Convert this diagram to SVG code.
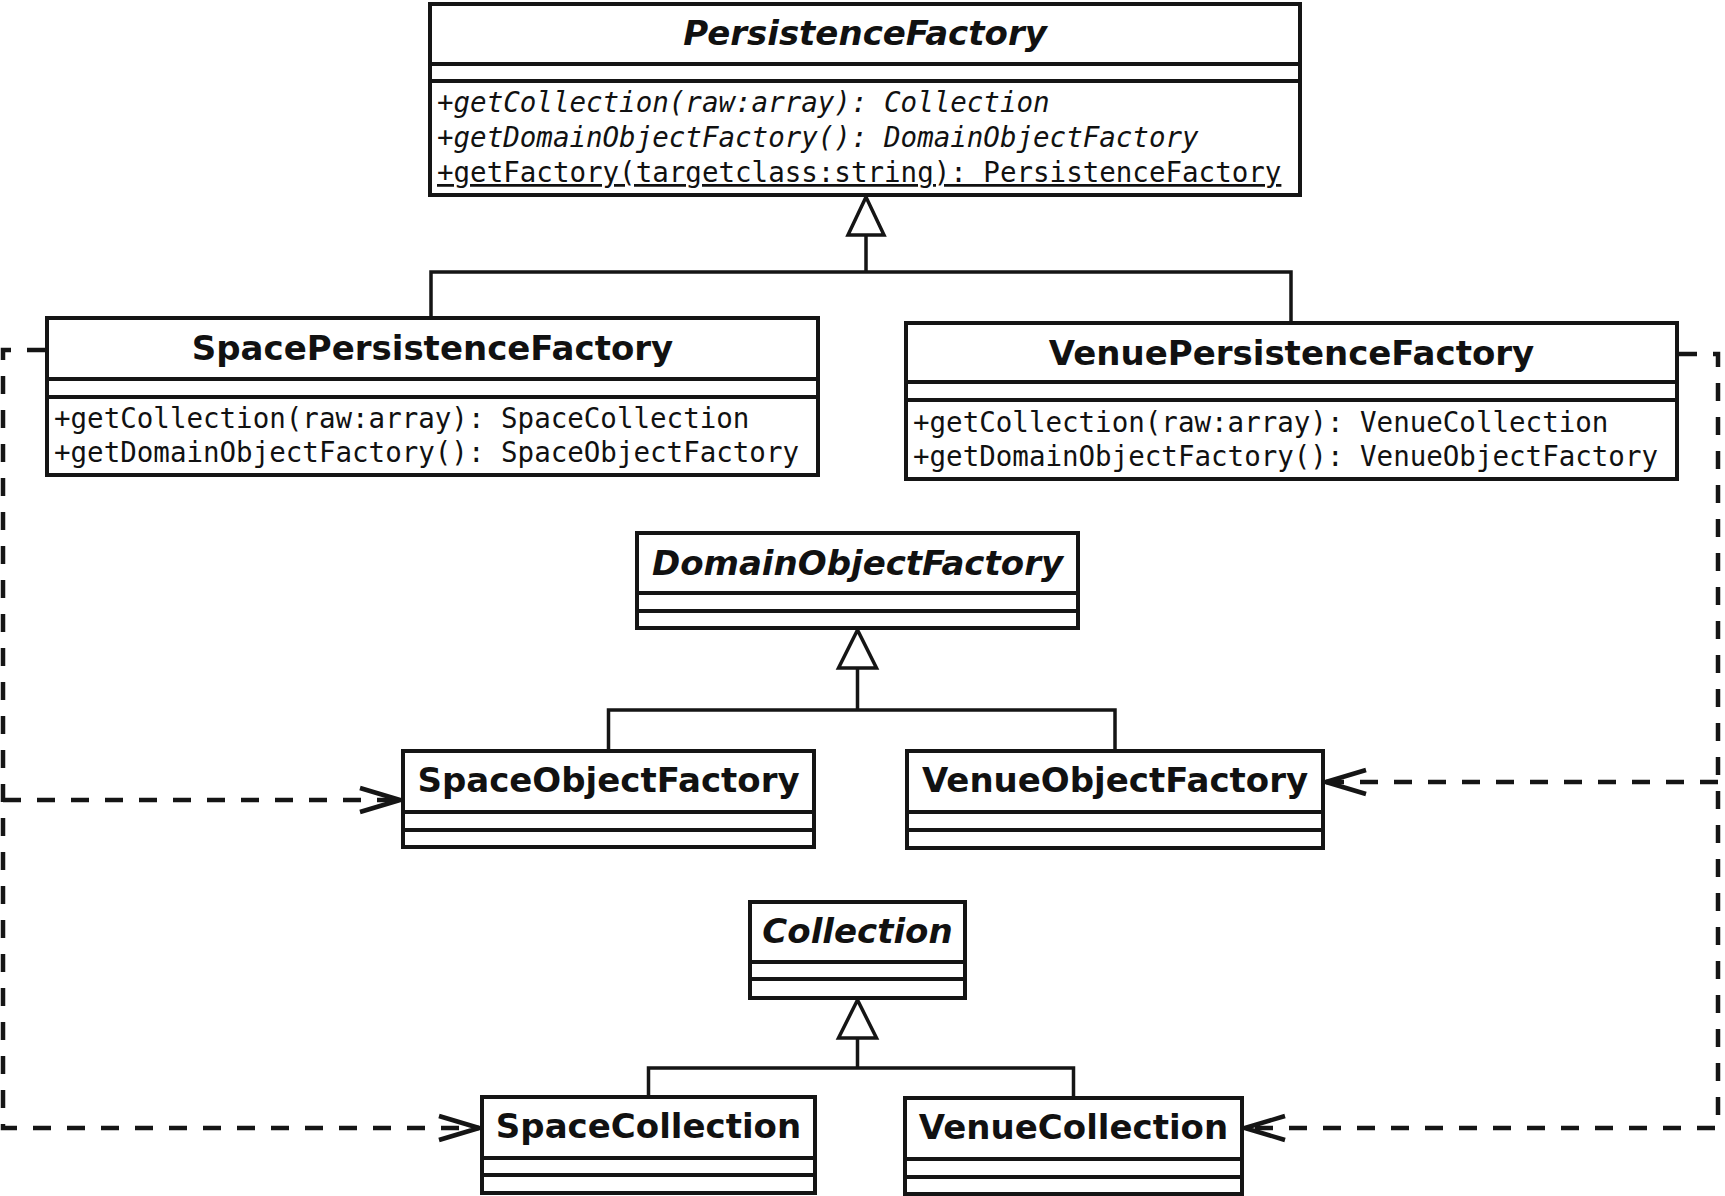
<svg xmlns="http://www.w3.org/2000/svg" width="1725" height="1196" viewBox="0 0 1725 1196">
<style>
.box{fill:#fff;stroke:#151515;stroke-width:4}
.dv{stroke:#151515;stroke-width:4}
.title{font-family:"DejaVu Sans","Liberation Sans",sans-serif;font-weight:bold;font-size:34px;text-anchor:middle;fill:#111}
.abs{font-style:italic}
.op{font-family:"DejaVu Sans Mono","Liberation Mono",monospace;font-size:27.5px;fill:#111}
.gen{fill:none;stroke:#151515;stroke-width:3.5}
.tri{fill:#fff;stroke:#151515;stroke-width:3.5;stroke-linejoin:miter}
.dep{fill:none;stroke:#151515;stroke-width:4.5;stroke-dasharray:18 16}
</style>
<defs>
<marker id="open" markerUnits="userSpaceOnUse" viewBox="-44 -16 48 32" refX="0" refY="0" markerWidth="48" markerHeight="32" orient="auto" overflow="visible">
<path d="M -40 -12 L 0 0 L -40 12" fill="none" stroke="#151515" stroke-width="4.5" stroke-linejoin="round" stroke-dasharray="none"/>
</marker>
</defs>
<rect width="1725" height="1196" fill="#fff"/>

<g id="connectors">
<polygon class="tri" points="866,197 848,235 884,235"/>
<path class="gen" d="M866 235 V272 M431 318 V272 H1291 V323"/>
<polygon class="tri" points="857.5,630 838.5,668 876.5,668"/>
<path class="gen" d="M857.5 668 V710 M608.5 751 V710 H1115 V751"/>
<polygon class="tri" points="857.5,1000 838.5,1038 876.5,1038"/>
<path class="gen" d="M857.5 1038 V1068 M648.5 1097 V1068 H1073.5 V1098"/>
<path class="dep" d="M45 350 H3 V1128 H479" marker-end="url(#open)"/>
<path class="dep" d="M3 800 H400" marker-end="url(#open)"/>
<path class="dep" d="M1679 354 H1718 V1128 H1245" marker-end="url(#open)"/>
<path class="dep" d="M1718 782 H1326" marker-end="url(#open)"/>
</g>

<g id="PersistenceFactory">
<rect class="box" x="430" y="4" width="870" height="191"/>
<line class="dv" x1="430" y1="64" x2="1300" y2="64"/>
<line class="dv" x1="430" y1="81" x2="1300" y2="81"/>
<text class="title abs" x="865" y="45">PersistenceFactory</text>
<text class="op abs" x="437" y="112">+getCollection(raw:array): Collection</text>
<text class="op abs" x="437" y="147">+getDomainObjectFactory(): DomainObjectFactory</text>
<text class="op" x="437" y="182" text-decoration="underline">+getFactory(targetclass:string): PersistenceFactory</text>
</g>

<g id="SpacePersistenceFactory">
<rect class="box" x="47" y="318" width="771" height="157"/>
<line class="dv" x1="47" y1="379" x2="818" y2="379"/>
<line class="dv" x1="47" y1="397" x2="818" y2="397"/>
<text class="title" x="432.5" y="360">SpacePersistenceFactory</text>
<text class="op" x="54" y="428">+getCollection(raw:array): SpaceCollection</text>
<text class="op" x="54" y="462">+getDomainObjectFactory(): SpaceObjectFactory</text>
</g>

<g id="VenuePersistenceFactory">
<rect class="box" x="906" y="323" width="771" height="156"/>
<line class="dv" x1="906" y1="382" x2="1677" y2="382"/>
<line class="dv" x1="906" y1="400" x2="1677" y2="400"/>
<text class="title" x="1291.5" y="365">VenuePersistenceFactory</text>
<text class="op" x="913" y="432">+getCollection(raw:array): VenueCollection</text>
<text class="op" x="913" y="466">+getDomainObjectFactory(): VenueObjectFactory</text>
</g>

<g id="DomainObjectFactory">
<rect class="box" x="637" y="533" width="441" height="95"/>
<line class="dv" x1="637" y1="593" x2="1078" y2="593"/>
<line class="dv" x1="637" y1="611" x2="1078" y2="611"/>
<text class="title abs" x="857.5" y="575">DomainObjectFactory</text>
</g>

<g id="SpaceObjectFactory">
<rect class="box" x="403" y="751" width="411" height="96"/>
<line class="dv" x1="403" y1="812" x2="814" y2="812"/>
<line class="dv" x1="403" y1="830" x2="814" y2="830"/>
<text class="title" x="608.5" y="792">SpaceObjectFactory</text>
</g>

<g id="VenueObjectFactory">
<rect class="box" x="907" y="751" width="416" height="97"/>
<line class="dv" x1="907" y1="812" x2="1323" y2="812"/>
<line class="dv" x1="907" y1="830" x2="1323" y2="830"/>
<text class="title" x="1115" y="792">VenueObjectFactory</text>
</g>

<g id="Collection">
<rect class="box" x="750" y="902" width="215" height="96"/>
<line class="dv" x1="750" y1="962" x2="965" y2="962"/>
<line class="dv" x1="750" y1="979" x2="965" y2="979"/>
<text class="title abs" x="857.5" y="943">Collection</text>
</g>

<g id="SpaceCollection">
<rect class="box" x="482" y="1097" width="333" height="96"/>
<line class="dv" x1="482" y1="1158" x2="815" y2="1158"/>
<line class="dv" x1="482" y1="1175" x2="815" y2="1175"/>
<text class="title" x="648.5" y="1138">SpaceCollection</text>
</g>

<g id="VenueCollection">
<rect class="box" x="905" y="1098" width="337" height="96"/>
<line class="dv" x1="905" y1="1159" x2="1242" y2="1159"/>
<line class="dv" x1="905" y1="1177" x2="1242" y2="1177"/>
<text class="title" x="1073.5" y="1139">VenueCollection</text>
</g>
</svg>
